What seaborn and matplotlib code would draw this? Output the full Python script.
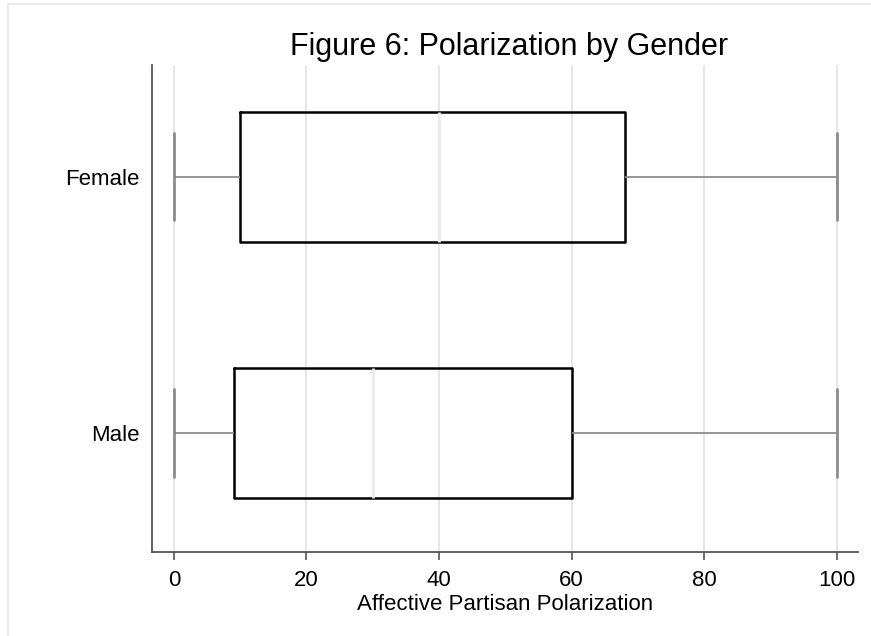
import numpy as np
import pandas as pd
import matplotlib
matplotlib.use("Agg")
import matplotlib.pyplot as plt
from matplotlib.lines import Line2D
import seaborn as sns

# Categories and five-number summaries (min, Q1, median, Q3, max)
genders = ["Female", "Male"]
female_summary = [0, 10, 40, 68, 100]
male_summary = [0, 9, 30, 60, 100]
x_ticks = [0, 20, 40, 60, 80, 100]

df = pd.DataFrame({
    "gender": np.repeat(genders, len(female_summary)),
    "score": female_summary + male_summary,
})

sns.set_theme(style="white")
plt.rcParams["font.family"] = ["Liberation Sans", "DejaVu Sans"]

fig = plt.figure(figsize=(8.71, 6.36), dpi=100)
ax = fig.add_axes([0.1745, 0.132, 0.8105, 0.766])

grid_color = "#e6e6e6"
ax.set_axisbelow(True)
ax.xaxis.grid(True, color=grid_color, linewidth=1.4)
ax.yaxis.grid(False)

sns.boxplot(
    data=df, x="score", y="gender", order=genders, orient="h",
    width=0.51, whis=1.5, fill=False, color="black", linewidth=1.8,
    capwidths=0.34,
    whiskerprops={"color": "#8c8c8c", "linewidth": 1.3},
    capprops={"color": "#8c8c8c", "linewidth": 2.0},
    medianprops={"color": "#ebebeb", "linewidth": 2.0},
    ax=ax,
)

ax.set_xlim(-3.3, 103.2)
ax.set_ylim(1.465, -0.4375)
ax.set_xticks(x_ticks)
ax.set_xticklabels([str(t) for t in x_ticks])

for side in ("top", "right"):
    ax.spines[side].set_visible(False)
for side in ("left", "bottom"):
    ax.spines[side].set_color("#555555")
    ax.spines[side].set_linewidth(1.3)

ax.tick_params(axis="x", bottom=True, length=6, width=1.2, color="#555555",
               labelsize=16, labelcolor="black", pad=7)
ax.tick_params(axis="y", left=False, length=0, labelsize=16,
               labelcolor="black", pad=9)

ax.set_xlabel("Affective Partisan Polarization", fontsize=16, labelpad=2,
              color="black")
ax.set_ylabel("")

fig.text(509 / 871, 1 - 55 / 636, "Figure 6: Polarization by Gender",
         ha="center", va="baseline", fontsize=22, color="black")

# thin outer frame along the top and left edges
frame_color = "#e8e8e8"
fig.add_artist(Line2D([8 / 871, 1], [1 - 4 / 636, 1 - 4 / 636],
                      transform=fig.transFigure, color=frame_color, lw=1.2))
fig.add_artist(Line2D([8 / 871, 8 / 871], [0, 1 - 4 / 636],
                      transform=fig.transFigure, color=frame_color, lw=1.2))

fig.savefig("out.png", dpi=100, facecolor="white")
